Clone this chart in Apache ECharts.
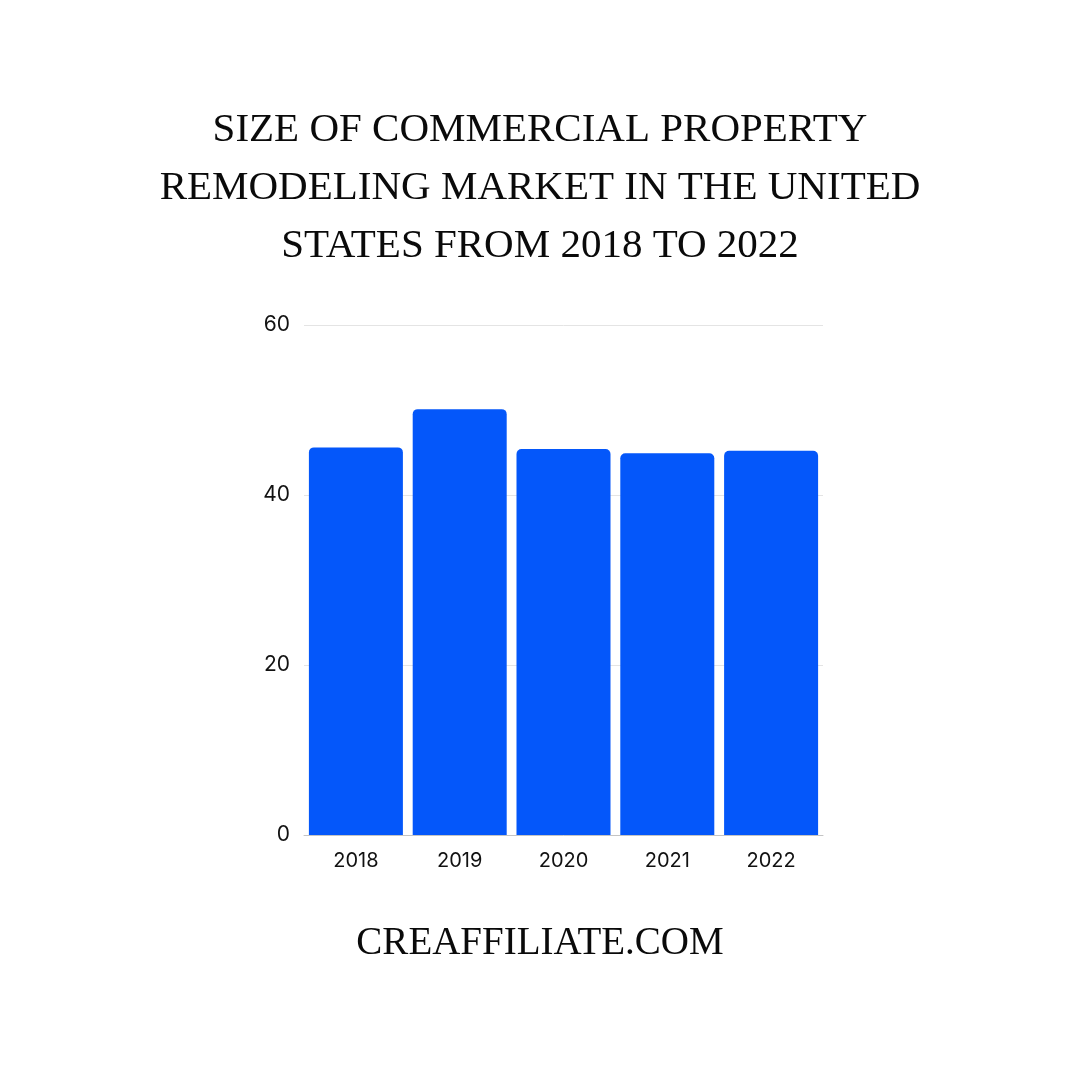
<!DOCTYPE html>
<html>
<head>
<meta charset="utf-8">
<script src="https://cdn.jsdelivr.net/npm/echarts@6/dist/echarts.min.js"></script>
<style>
  html, body { margin: 0; padding: 0; background: #fff; }
  #main { width: 1080px; height: 1080px; }
</style>
</head>
<body>
<div id="main"></div>
<script>
  var titleLines = ['SIZE OF COMMERCIAL PROPERTY', 'REMODELING MARKET IN THE UNITED', 'STATES FROM 2018 TO 2022'];
  var footerText = 'CREAFFILIATE.COM';
  var years = ['2018', '2019', '2020', '2021', '2022'];
  var marketSize = [45.6, 50.1, 45.4, 44.9, 45.2];
  var yTicks = { min: 0, max: 60, interval: 20 };

  var myChart = echarts.init(document.getElementById('main'));

  var option = {
    backgroundColor: '#ffffff',
    animation: false,
    graphic: [{
      type: 'text',
      x: 540,
      y: 188,
      style: {
        text: titleLines.join('\n'),
        fontFamily: 'Liberation Serif',
        fontSize: 41,
        lineHeight: 58,
        fill: '#0a0a0a',
        align: 'center',
        verticalAlign: 'middle'
      }
    }, {
      type: 'text',
      x: 540,
      y: 944,
      style: {
        text: footerText,
        fontFamily: 'Liberation Serif',
        fontSize: 39,
        fill: '#0a0a0a',
        align: 'center',
        verticalAlign: 'middle'
      }
    }],
    grid: {
      left: 304,
      right: 257,
      top: 325,
      bottom: 245
    },
    xAxis: {
      type: 'category',
      data: years,
      axisTick: { show: false },
      axisLine: { lineStyle: { color: '#c4c4c4', width: 1 } },
      axisLabel: {
        color: '#111',
        fontFamily: 'Inter',
        fontSize: 20,
        margin: 16
      }
    },
    yAxis: {
      type: 'value',
      min: yTicks.min,
      max: yTicks.max,
      interval: yTicks.interval,
      axisLine: { show: false },
      axisTick: { show: false },
      splitLine: { lineStyle: { color: '#e4e4e4', width: 1 } },
      axisLabel: {
        color: '#111',
        fontFamily: 'Inter',
        fontSize: 21,
        margin: 14,
        padding: [5, 0, 0, 0]
      }
    },
    series: [{
      type: 'bar',
      data: marketSize,
      barWidth: 94,
      itemStyle: {
        color: '#0457fa',
        borderRadius: [5, 5, 0, 0]
      }
    }]
  };

  myChart.setOption(option);
</script>
</body>
</html>
